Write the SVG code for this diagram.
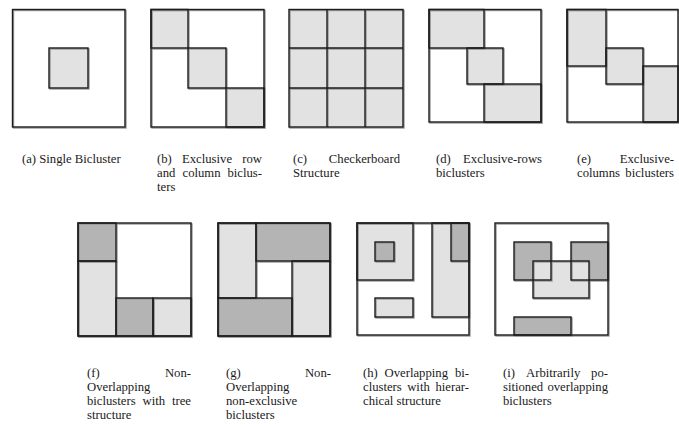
<svg xmlns="http://www.w3.org/2000/svg" width="679" height="425" viewBox="0 0 679 425">
<style>
.bg{fill:#ffffff}
.l{fill:#e2e2e2}
.d{fill:#b4b4b4}
.w{fill:#ffffff}
.o{fill:none;stroke:#1c1c1c;stroke-width:1.4}
.s{fill:none;stroke:#9a9a9a;stroke-width:1.4}
text{font-family:"Liberation Serif","Times New Roman",serif;font-size:12.7px;fill:#1a1a1a}
.e{text-anchor:end}
</style>
<rect class="bg" x="0" y="0" width="679" height="425"/>

<g id="panel-a">
<rect class="w" x="12.5" y="9.5" width="112.5" height="117.5"/>
<rect class="l" x="49" y="48" width="39" height="40"/>
<g transform="translate(1,1)"><rect class="s" x="12.5" y="9.5" width="112.5" height="117.5"/><rect class="s" x="49" y="48" width="39" height="40"/></g>
<rect class="o" x="12.5" y="9.5" width="112.5" height="117.5"/>
<rect class="o" x="49" y="48" width="39" height="40"/>
</g>

<g id="panel-b">
<rect class="w" x="151" y="9.5" width="113" height="117.5"/>
<rect class="l" x="151" y="9.5" width="37" height="38.5"/>
<rect class="l" x="188" y="48" width="38" height="40"/>
<rect class="l" x="226" y="88" width="38" height="39"/>
<g transform="translate(1,1)"><rect class="s" x="151" y="9.5" width="113" height="117.5"/><rect class="s" x="151" y="9.5" width="37" height="38.5"/><rect class="s" x="188" y="48" width="38" height="40"/><rect class="s" x="226" y="88" width="38" height="39"/></g>
<rect class="o" x="151" y="9.5" width="113" height="117.5"/>
<rect class="o" x="151" y="9.5" width="37" height="38.5"/>
<rect class="o" x="188" y="48" width="38" height="40"/>
<rect class="o" x="226" y="88" width="38" height="39"/>
</g>

<g id="panel-c">
<rect class="l" x="289" y="9.5" width="114" height="117.5"/>
<g transform="translate(1,1)"><rect class="s" x="289" y="9.5" width="114" height="117.5"/><path class="s" d="M327 9.5V127M365 9.5V127M289 48H403M289 88H403"/></g>
<rect class="o" x="289" y="9.5" width="114" height="117.5"/>
<path class="o" d="M327 9.5V127M365 9.5V127M289 48H403M289 88H403"/>
</g>

<g id="panel-d">
<rect class="w" x="429" y="9.5" width="112" height="112.5"/>
<rect class="l" x="429" y="9.5" width="55" height="38.5"/>
<rect class="l" x="467" y="48" width="36" height="36"/>
<rect class="l" x="484" y="84" width="57" height="38"/>
<g transform="translate(1,1)"><rect class="s" x="429" y="9.5" width="112" height="112.5"/><rect class="s" x="429" y="9.5" width="55" height="38.5"/><rect class="s" x="467" y="48" width="36" height="36"/><rect class="s" x="484" y="84" width="57" height="38"/></g>
<rect class="o" x="429" y="9.5" width="112" height="112.5"/>
<rect class="o" x="429" y="9.5" width="55" height="38.5"/>
<rect class="o" x="467" y="48" width="36" height="36"/>
<rect class="o" x="484" y="84" width="57" height="38"/>
</g>

<g id="panel-e">
<rect class="w" x="567" y="9.5" width="111" height="112.5"/>
<rect class="l" x="567" y="9.5" width="39" height="56.5"/>
<rect class="l" x="606" y="48" width="37" height="36"/>
<rect class="l" x="643" y="66" width="35" height="56"/>
<g transform="translate(1,1)"><rect class="s" x="567" y="9.5" width="111" height="112.5"/><rect class="s" x="567" y="9.5" width="39" height="56.5"/><rect class="s" x="606" y="48" width="37" height="36"/><rect class="s" x="643" y="66" width="35" height="56"/></g>
<rect class="o" x="567" y="9.5" width="111" height="112.5"/>
<rect class="o" x="567" y="9.5" width="39" height="56.5"/>
<rect class="o" x="606" y="48" width="37" height="36"/>
<rect class="o" x="643" y="66" width="35" height="56"/>
</g>

<g id="panel-f">
<rect class="w" x="78" y="223" width="113" height="113"/>
<rect class="d" x="78" y="223" width="38" height="38"/>
<rect class="l" x="78" y="261" width="38" height="75"/>
<rect class="d" x="116" y="298" width="37" height="38"/>
<rect class="l" x="153" y="298" width="38" height="38"/>
<g transform="translate(1,1)"><rect class="s" x="78" y="223" width="113" height="113"/><rect class="s" x="78" y="223" width="38" height="38"/><rect class="s" x="78" y="261" width="38" height="75"/><rect class="s" x="116" y="298" width="37" height="38"/><rect class="s" x="153" y="298" width="38" height="38"/></g>
<rect class="o" x="78" y="223" width="113" height="113"/>
<rect class="o" x="78" y="223" width="38" height="38"/>
<rect class="o" x="78" y="261" width="38" height="75"/>
<rect class="o" x="116" y="298" width="37" height="38"/>
<rect class="o" x="153" y="298" width="38" height="38"/>
</g>

<g id="panel-g">
<rect class="w" x="218" y="223" width="112" height="113"/>
<rect class="l" x="218" y="223" width="38" height="75"/>
<rect class="d" x="256" y="223" width="74" height="38"/>
<rect class="l" x="292" y="261" width="38" height="75"/>
<rect class="d" x="218" y="298" width="74" height="38"/>
<g transform="translate(1,1)"><rect class="s" x="218" y="223" width="112" height="113"/><rect class="s" x="218" y="223" width="38" height="75"/><rect class="s" x="256" y="223" width="74" height="38"/><rect class="s" x="292" y="261" width="38" height="75"/><rect class="s" x="218" y="298" width="74" height="38"/></g>
<rect class="o" x="218" y="223" width="112" height="113"/>
<rect class="o" x="218" y="223" width="38" height="75"/>
<rect class="o" x="256" y="223" width="74" height="38"/>
<rect class="o" x="292" y="261" width="38" height="75"/>
<rect class="o" x="218" y="298" width="74" height="38"/>
</g>

<g id="panel-h">
<rect class="w" x="357" y="223" width="112" height="112"/>
<rect class="l" x="357" y="223" width="56" height="57"/>
<rect class="d" x="375" y="242" width="19" height="19"/>
<rect class="l" x="432" y="223" width="37" height="94"/>
<rect class="d" x="451" y="223" width="18" height="38"/>
<rect class="l" x="375" y="298" width="38" height="19"/>
<g transform="translate(1,1)"><rect class="s" x="357" y="223" width="112" height="112"/><rect class="s" x="357" y="223" width="56" height="57"/><rect class="s" x="375" y="242" width="19" height="19"/><rect class="s" x="432" y="223" width="37" height="94"/><rect class="s" x="451" y="223" width="18" height="38"/><rect class="s" x="375" y="298" width="38" height="19"/></g>
<rect class="o" x="357" y="223" width="112" height="112"/>
<rect class="o" x="357" y="223" width="56" height="57"/>
<rect class="o" x="375" y="242" width="19" height="19"/>
<rect class="o" x="432" y="223" width="37" height="94"/>
<rect class="o" x="451" y="223" width="18" height="38"/>
<rect class="o" x="375" y="298" width="38" height="19"/>
</g>

<g id="panel-i">
<rect class="w" x="495" y="223" width="113" height="112"/>
<rect class="d" x="514" y="242" width="37" height="38"/>
<rect class="d" x="571" y="242" width="37" height="38"/>
<rect class="l" x="533" y="261" width="56" height="37"/>
<rect class="d" x="514" y="317" width="57" height="18"/>
<g transform="translate(1,1)"><rect class="s" x="495" y="223" width="113" height="112"/><rect class="s" x="514" y="242" width="37" height="38"/><rect class="s" x="571" y="242" width="37" height="38"/><rect class="s" x="533" y="261" width="56" height="37"/><rect class="s" x="514" y="317" width="57" height="18"/></g>
<rect class="o" x="495" y="223" width="113" height="112"/>
<rect class="o" x="514" y="242" width="37" height="38"/>
<rect class="o" x="571" y="242" width="37" height="38"/>
<rect class="o" x="533" y="261" width="56" height="37"/>
<rect class="o" x="514" y="317" width="57" height="18"/>
</g>

<g id="captions">
<text x="22" y="163">(a) Single Bicluster</text>

<text x="157" y="163">(b)</text><text x="182" y="163">Exclusive</text><text class="e" x="262" y="163">row</text>
<text x="157" y="177">and</text><text x="182.5" y="177">column</text><text class="e" x="262" y="177">biclus-</text>
<text x="157" y="190.5">ters</text>

<text x="293" y="163">(c)</text><text class="e" x="400" y="163">Checkerboard</text>
<text x="293" y="177">Structure</text>

<text x="436" y="163">(d)</text><text class="e" x="542" y="163">Exclusive-rows</text>
<text x="436" y="177">biclusters</text>

<text x="577" y="163">(e)</text><text class="e" x="674" y="163">Exclusive-</text>
<text x="577" y="177">columns</text><text class="e" x="674" y="177">biclusters</text>

<text x="87" y="377">(f)</text><text class="e" x="191" y="377">Non-</text>
<text x="87" y="391">Overlapping</text>
<text x="87" y="405">biclusters</text><text x="142.5" y="405">with</text><text class="e" x="191" y="405">tree</text>
<text x="87" y="419">structure</text>

<text x="226" y="377">(g)</text><text class="e" x="331" y="377">Non-</text>
<text x="226" y="391">Overlapping</text>
<text x="226" y="405">non-exclusive</text>
<text x="226" y="419">biclusters</text>

<text x="363" y="377">(h)</text><text x="384.6" y="377">Overlapping</text><text class="e" x="469" y="377">bi-</text>
<text x="363" y="391">clusters</text><text x="407.2" y="391">with</text><text class="e" x="469" y="391">hierar-</text>
<text x="363" y="405">chical structure</text>

<text x="503" y="377">(i)</text><text x="526" y="377">Arbitrarily</text><text class="e" x="608" y="377">po-</text>
<text x="503" y="391">sitioned</text><text class="e" x="608" y="391">overlapping</text>
<text x="503" y="405">biclusters</text>
</g>
</svg>
